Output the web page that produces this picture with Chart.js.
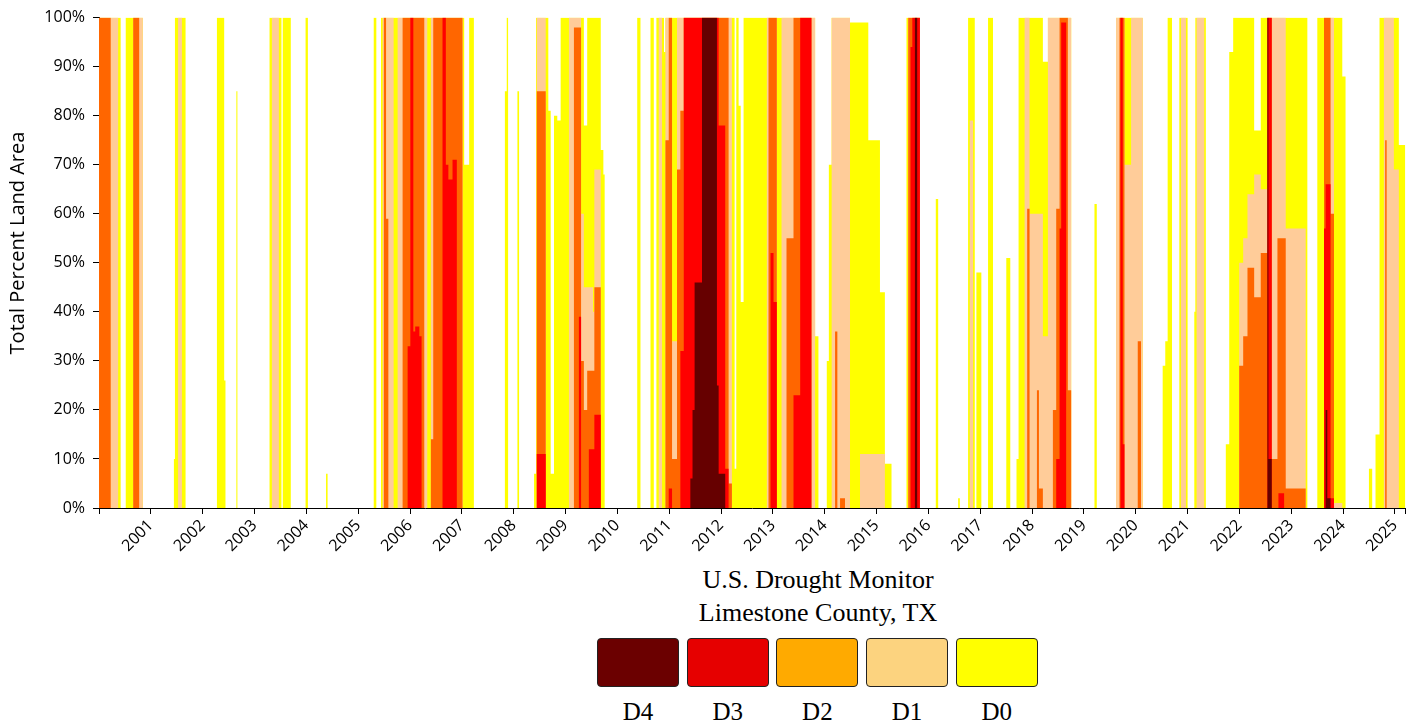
<!DOCTYPE html>
<html>
<head>
<meta charset="utf-8">
<script src="https://cdn.jsdelivr.net/npm/chart.js@4.4.1/dist/chart.umd.min.js"></script>
<style>
  body { margin: 0; background: #fff; }
  #wrap { position: relative; width: 1421px; height: 723px; }
  #chart { position: absolute; left: 0; top: 0; }
  .title { position: absolute; left: 818px; top: 563px; transform: translateX(-50%);
           font: 26px/33px "Liberation Serif", "Times New Roman", serif; text-align: center;
           white-space: nowrap; color: #000; }
  .legend { position: absolute; left: 597px; top: 638px; display: flex; gap: 7.7px; }
  .item { width: 82px; text-align: center; font: 25px/33px "Liberation Serif", serif; color: #000; }
  .box { height: 49px; border: 1px solid #222; border-radius: 4px; box-sizing: border-box; margin-bottom: 8px; }
</style>
</head>
<body>
<div id="wrap">
  <canvas id="chart" width="1421" height="560"></canvas>
  <div class="title">U.S. Drought Monitor<br>Limestone County, TX</div>
  <div class="legend" id="legend"></div>
</div>
<script>
// Semaines (années décimales) où l'état change ; chaque valeur tient jusqu'au point suivant
const weeks = [
  2000.000, 2000.226, 2000.370, 2000.418, 2000.516, 2000.660, 2000.775, 2000.845,
  2001.445, 2001.465, 2001.525, 2001.600, 2001.670,
  2002.275, 2002.415, 2002.440, 2002.650, 2002.670, 2003.290, 2003.335, 2003.470, 2003.520, 2003.545, 2003.700, 2003.985, 2004.030, 2004.380, 2004.410,
  2005.300, 2005.350, 2005.440, 2005.472, 2005.495, 2005.538, 2005.582, 2005.684, 2005.761, 2005.857, 2005.954, 2006.006, 2006.064, 2006.100, 2006.180,
  2006.223, 2006.275, 2006.333, 2006.402, 2006.448, 2006.627, 2006.691, 2006.740, 2006.820, 2006.903, 2007.013, 2007.045, 2007.141, 2007.232,
  2007.830, 2007.866, 2007.892, 2008.072, 2008.104,
  2008.393, 2008.431, 2008.445, 2008.618, 2008.668, 2008.714, 2008.778, 2008.841, 2008.906, 2009.066, 2009.162, 2009.258, 2009.300, 2009.354, 2009.418, 2009.450, 2009.530, 2009.556, 2009.680, 2009.730, 2009.755,
  2010.383, 2010.446, 2010.639, 2010.703, 2010.753, 2010.798, 2010.862, 2010.900, 2010.927, 2010.991, 2011.055, 2011.151, 2011.215, 2011.281,
  2011.408, 2011.450, 2011.490, 2011.633, 2011.921, 2011.954, 2012.081, 2012.146, 2012.210, 2012.262, 2012.294, 2012.339, 2012.380, 2012.435,
  2012.884, 2012.916, 2012.955, 2013.013, 2013.076, 2013.167, 2013.263, 2013.398, 2013.527, 2013.744, 2013.815, 2013.879,
  2014.040, 2014.080, 2014.134, 2014.200, 2014.244, 2014.296, 2014.392, 2014.488, 2014.681, 2014.841, 2015.066, 2015.161, 2015.289, 2015.578, 2015.611, 2015.655, 2015.690, 2015.740, 2015.784, 2015.836,
  2016.143, 2016.189, 2016.574, 2016.607, 2016.766, 2016.798, 2016.862, 2016.895, 2016.926, 2017.022, 2017.151, 2017.247, 2017.503, 2017.580, 2017.700, 2017.740,
  2017.856, 2017.906, 2017.952, 2018.094, 2018.133, 2018.209, 2018.306, 2018.402, 2018.466, 2018.531, 2018.562, 2018.658, 2018.691, 2018.755,
  2019.204, 2019.249, 2019.621, 2019.686, 2019.705, 2019.750, 2019.783, 2019.910, 2020.039, 2020.102, 2020.135,
  2020.520, 2020.570, 2020.616, 2020.700, 2020.841, 2020.872, 2020.969, 2021.001, 2021.130, 2021.150, 2021.174, 2021.322, 2021.353, 2021.738, 2021.804, 2021.880,
  2021.996, 2022.073, 2022.156, 2022.285, 2022.412, 2022.541, 2022.560, 2022.624, 2022.734, 2022.753, 2022.863, 2022.894, 2023.279, 2023.311,
  2023.503, 2023.632, 2023.663, 2023.696, 2023.759, 2023.825, 2023.985, 2024.048, 2024.499, 2024.562, 2024.626, 2024.703, 2024.787, 2024.812, 2024.841, 2024.980, 2025.076, 2025.203
];

// Pourcentages cumulés : D0 = D0-D4, D1 = D1-D4, ... D4 = D4
const d0 = [
  100, 100, 100, 0, 100, 100, 100, 0,
  10, 100, 100, 100, 0,
  100, 26, 0, 85, 0, 100, 100, 100, 0, 100, 0, 100, 0, 7, 0,
  100, 0, 100, 100, 100, 100, 100, 100, 100, 100, 100, 100, 100, 100, 100,
  100, 100, 100, 100, 100, 100, 100, 100, 100, 100, 100, 70, 100, 0,
  85, 100, 0, 85, 0,
  7, 100, 100, 100, 81, 7, 80, 79, 100, 100, 100, 100, 100, 78, 100, 100, 100, 100, 73, 68, 0,
  100, 0, 100, 0, 100, 100, 100, 93, 100, 100, 100, 100, 100, 100,
  100, 100, 100, 100, 100, 100, 100, 100, 100, 8, 100, 82, 42, 100,
  100, 100, 100, 100, 100, 100, 100, 100, 100, 100, 35, 0,
  30, 70, 100, 100, 100, 100, 100, 99, 99, 75, 44, 9, 0, 100, 100, 100, 100, 100, 100, 0,
  63, 0, 2, 0, 100, 100, 100, 0, 48, 0, 100, 0, 51, 0, 10, 100,
  100, 100, 100, 100, 100, 91, 100, 100, 100, 100, 100, 100, 100, 0,
  62, 0, 100, 100, 100, 100, 100, 100, 100, 100, 0,
  29, 34, 100, 0, 100, 100, 100, 0, 40, 100, 100, 100, 0, 13, 93, 100,
  100, 100, 100, 77, 100, 100, 100, 100, 100, 100, 100, 100, 100, 0,
  100, 100, 100, 100, 100, 100, 88, 0, 8, 0, 15, 100, 100, 100, 100, 100, 74, 74
];
const d1 = [
  100, 100, 0, 0, 0, 100, 100, 0,
  0, 0, 100, 0, 0,
  0, 0, 0, 0, 0, 0, 100, 0, 0, 0, 0, 0, 0, 0, 0,
  0, 0, 0, 100, 100, 100, 100, 0, 100, 100, 100, 100, 100, 100, 100,
  100, 100, 0, 100, 100, 100, 100, 100, 100, 100, 0, 0, 0, 0,
  0, 0, 0, 0, 0,
  0, 0, 100, 0, 0, 0, 0, 0, 0, 100, 100, 100, 60, 45, 45, 45, 40, 69, 0, 0, 0,
  0, 0, 0, 0, 0, 100, 0, 0, 100, 100, 34, 100, 100, 100,
  100, 100, 100, 100, 100, 100, 100, 100, 0, 0, 0, 0, 0, 0,
  100, 100, 100, 100, 0, 100, 100, 100, 100, 100, 0, 0,
  0, 0, 100, 100, 100, 100, 100, 0, 11, 11, 11, 0, 0, 0, 100, 100, 100, 100, 100, 0,
  0, 0, 0, 0, 0, 79, 0, 0, 0, 0, 0, 0, 0, 0, 0, 0,
  100, 100, 60, 60, 60, 35, 100, 100, 100, 100, 100, 100, 100, 0,
  0, 0, 100, 100, 100, 100, 70, 100, 100, 100, 0,
  0, 0, 0, 0, 0, 100, 0, 0, 0, 0, 100, 0, 0, 0, 0, 0,
  50, 55, 64, 68, 65, 100, 100, 100, 100, 100, 100, 57, 0, 0,
  0, 100, 100, 100, 100, 1, 0, 0, 0, 0, 0, 0, 100, 100, 100, 69, 0, 0
];
const d2 = [
  100, 0, 0, 0, 0, 100, 0, 0,
  0, 0, 0, 0, 0,
  0, 0, 0, 0, 0, 0, 0, 0, 0, 0, 0, 0, 0, 0, 0,
  0, 0, 0, 0, 100, 59, 0, 0, 0, 100, 100, 100, 100, 100, 100,
  100, 0, 0, 14, 100, 100, 100, 100, 100, 100, 0, 0, 0, 0,
  0, 0, 0, 0, 0,
  0, 0, 85, 0, 0, 0, 0, 0, 0, 0, 98, 98, 30, 20, 28, 28, 28, 45, 0, 0, 0,
  0, 0, 0, 0, 0, 0, 0, 0, 75, 100, 10, 69, 81, 100,
  100, 100, 100, 100, 100, 100, 100, 5, 0, 0, 0, 0, 0, 0,
  0, 100, 100, 100, 0, 0, 55, 100, 100, 0, 0, 0,
  0, 0, 0, 36, 0, 2, 0, 0, 0, 0, 0, 0, 0, 0, 100, 100, 100, 100, 100, 0,
  0, 0, 0, 0, 0, 0, 0, 0, 0, 0, 0, 0, 0, 0, 0, 0,
  0, 61, 0, 24, 4, 0, 0, 20, 61, 100, 100, 100, 24, 0,
  0, 0, 0, 100, 100, 100, 0, 0, 34, 0, 0,
  0, 0, 0, 0, 0, 0, 0, 0, 0, 0, 0, 0, 0, 0, 0, 0,
  29, 35, 49, 43, 52, 100, 100, 10, 55, 55, 55, 4, 0, 0,
  0, 100, 100, 100, 60, 0, 0, 0, 0, 0, 0, 0, 0, 75, 0, 0, 0, 0
];
const d3 = [
  0, 0, 0, 0, 0, 0, 0, 0,
  0, 0, 0, 0, 0,
  0, 0, 0, 0, 0, 0, 0, 0, 0, 0, 0, 0, 0, 0, 0,
  0, 0, 0, 0, 0, 0, 0, 0, 0, 0, 33, 100, 36, 37, 35,
  0, 0, 0, 0, 0, 100, 70, 67, 71, 0, 0, 0, 0, 0,
  0, 0, 0, 0, 0,
  0, 0, 11, 0, 0, 0, 0, 0, 0, 0, 0, 39, 0, 0, 0, 12, 12, 19, 0, 0, 0,
  0, 0, 0, 0, 0, 0, 0, 0, 0, 4, 0, 0, 32, 100,
  100, 100, 100, 100, 100, 78, 8, 0, 0, 0, 0, 0, 0, 0,
  0, 0, 52, 42, 0, 0, 0, 23, 100, 0, 0, 0,
  0, 0, 0, 0, 0, 0, 0, 0, 0, 0, 0, 0, 0, 0, 0, 94, 100, 100, 100, 0,
  0, 0, 0, 0, 0, 0, 0, 0, 0, 0, 0, 0, 0, 0, 0, 0,
  0, 0, 0, 0, 0, 0, 0, 0, 10, 57, 99, 0, 0, 0,
  0, 0, 0, 0, 100, 13, 0, 0, 0, 0, 0,
  0, 0, 0, 0, 0, 0, 0, 0, 0, 0, 0, 0, 0, 0, 0, 0,
  0, 0, 0, 0, 0, 100, 100, 0, 0, 3, 0, 0, 0, 0,
  0, 57, 66, 66, 2, 0, 0, 0, 0, 0, 0, 0, 0, 0, 0, 0, 0, 0
];
const d4 = [
  0, 0, 0, 0, 0, 0, 0, 0,
  0, 0, 0, 0, 0,
  0, 0, 0, 0, 0, 0, 0, 0, 0, 0, 0, 0, 0, 0, 0,
  0, 0, 0, 0, 0, 0, 0, 0, 0, 0, 0, 0, 0, 0, 0,
  0, 0, 0, 0, 0, 0, 0, 0, 0, 0, 0, 0, 0, 0,
  0, 0, 0, 0, 0,
  0, 0, 0, 0, 0, 0, 0, 0, 0, 0, 0, 0, 0, 0, 0, 0, 0, 0, 0, 0, 0,
  0, 0, 0, 0, 0, 0, 0, 0, 0, 0, 0, 0, 0, 0,
  6, 20, 46, 100, 25, 7, 0, 0, 0, 0, 0, 0, 0, 0,
  0, 0, 0, 0, 0, 0, 0, 0, 0, 0, 0, 0,
  0, 0, 0, 0, 0, 0, 0, 0, 0, 0, 0, 0, 0, 0, 0, 0, 0, 100, 0, 0,
  0, 0, 0, 0, 0, 0, 0, 0, 0, 0, 0, 0, 0, 0, 0, 0,
  0, 0, 0, 0, 0, 0, 0, 0, 0, 0, 0, 0, 0, 0,
  0, 0, 0, 0, 0, 0, 0, 0, 0, 0, 0,
  0, 0, 0, 0, 0, 0, 0, 0, 0, 0, 0, 0, 0, 0, 0, 0,
  0, 0, 0, 0, 0, 100, 10, 0, 0, 0, 0, 0, 0, 0,
  0, 0, 20, 2, 0, 0, 0, 0, 0, 0, 0, 0, 0, 0, 0, 0, 0, 0
];

// Etiquettes de l'axe x
const years = [2001, 2002, 2003, 2004, 2005, 2006, 2007, 2008, 2009, 2010, 2011, 2012, 2013,
               2014, 2015, 2016, 2017, 2018, 2019, 2020, 2021, 2022, 2023, 2024, 2025];
const categories = ['D4', 'D3', 'D2', 'D1', 'D0'];

const areaColors = ['#660000', '#ff0000', '#ff6600', '#ffcc99', '#ffff00'];
const legendColors = ['#6b0000', '#e60000', '#ffaa00', '#fcd37f', '#ffff00'];
const seriesValues = [d4, d3, d2, d1, d0];

// Titre de l'axe y, placé à la main
const yTitle = {
  id: 'yTitle',
  afterDraw(chart) {
    const ctx = chart.ctx;
    ctx.save();
    ctx.translate(18, 243);
    ctx.rotate(-Math.PI / 2);
    ctx.font = '20px "Open Sans"';
    ctx.fillStyle = '#000';
    ctx.textAlign = 'center';
    ctx.textBaseline = 'middle';
    ctx.fillText('Total Percent Land Area', 0, 0);
    ctx.restore();
  }
};

const tickFont = { family: "'Open Sans', sans-serif", size: 16 };

new Chart(document.getElementById('chart'), {
  type: 'line',
  data: {
    datasets: categories.map((name, k) => ({
      label: name,
      data: weeks.map((t, i) => ({ x: t, y: seriesValues[k][i] })),
      backgroundColor: areaColors[k],
      borderColor: 'rgba(0,0,0,0)',
      borderWidth: 0,
      fill: 'origin',
      stepped: true,
      pointRadius: 0
    }))
  },
  options: {
    responsive: false,
    animation: false,
    layout: { padding: { top: 17, right: 13, left: 0, bottom: 0 } },
    plugins: { legend: { display: false }, tooltip: { enabled: false } },
    scales: {
      x: {
        type: 'linear',
        min: 2000,
        max: weeks[weeks.length - 1],
        afterBuildTicks: s => { s.ticks = [2000, ...years, weeks[weeks.length - 1]].map(v => ({ value: v })); },
        afterFit: s => { s.height = 52; },
        grid: { drawOnChartArea: false, tickLength: 6, color: '#000' },
        border: { color: '#000', width: 1 },
        ticks: {
          autoSkip: false, maxRotation: 45, minRotation: 45, padding: 2,
          color: '#000', font: tickFont,
          callback: v => years.includes(v) ? String(v) : ''
        }
      },
      y: {
        min: 0,
        max: 100,
        afterFit: s => { s.width = 99; },
        grid: { drawOnChartArea: false, tickLength: 6, color: '#000' },
        border: { color: '#000', width: 1 },
        ticks: { stepSize: 10, padding: 8, color: '#000', font: tickFont, callback: v => v + '%' }
      }
    }
  },
  plugins: [yTitle]
});

// Légende HTML : boîtes arrondies avec le nom en dessous
const legend = document.getElementById('legend');
categories.forEach((name, k) => {
  const item = document.createElement('div');
  item.className = 'item';
  item.innerHTML = '<div class="box" style="background:' + legendColors[k] + '"></div>' + name;
  legend.appendChild(item);
});
</script>
</body>
</html>
